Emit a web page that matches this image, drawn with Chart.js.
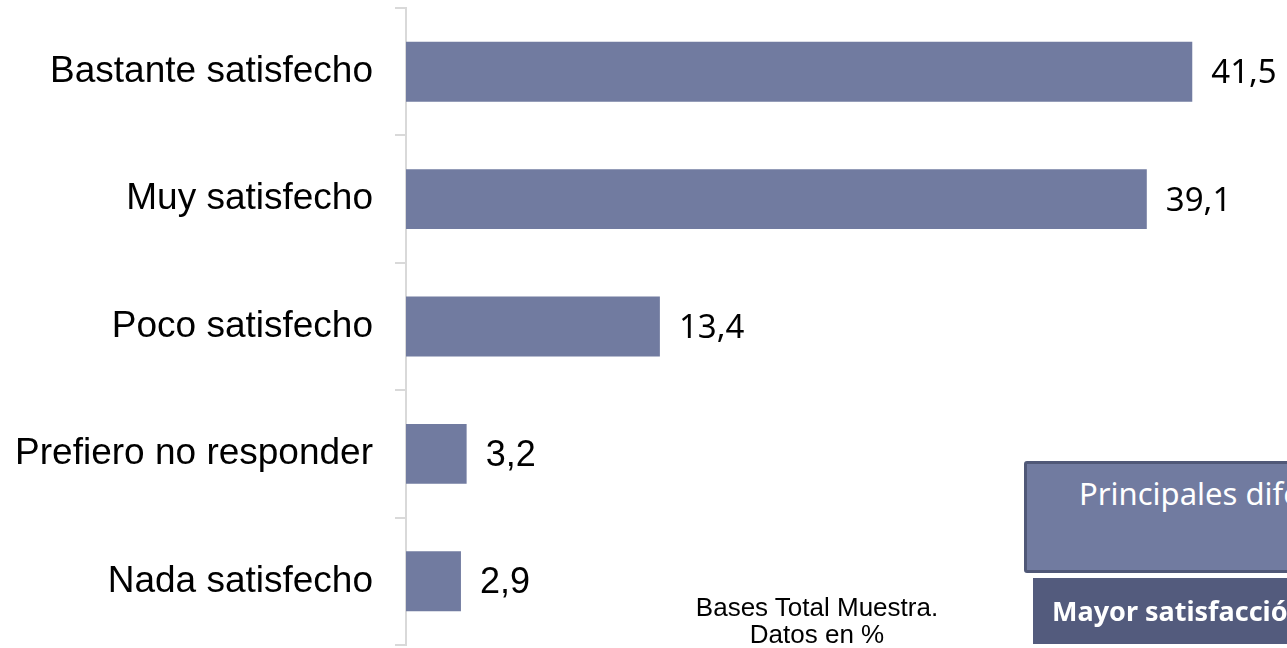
<!DOCTYPE html>
<html>
<head>
<meta charset="utf-8">
<script src="https://cdn.jsdelivr.net/npm/chart.js@4/dist/chart.umd.min.js"></script>
<style>
  html, body { margin: 0; padding: 0; background: #fff; overflow: hidden; }
  #wrap { position: relative; width: 1287px; height: 648px; overflow: hidden; }
  #chart { position: absolute; left: 0; top: 0; }
  .note {
    position: absolute; left: 680px; top: 594px; width: 274px;
    font-family: "Liberation Sans", Arial, sans-serif; font-size: 26px;
    line-height: 27px; text-align: center; color: #000;
  }
  .box1 {
    position: absolute; left: 1024px; top: 461px; width: 400px; height: 106px;
    background: #717ba0; border: 3px solid #505877; border-radius: 3px;
    color: #fff; font-family: "Noto Sans", sans-serif; font-size: 31px;
    white-space: nowrap; box-sizing: content-box;
  }
  .box1 span { position: absolute; left: 52px; top: 8px; }
  .box2 {
    position: absolute; left: 1033px; top: 578px; width: 400px; height: 66px;
    background: #535b7d; color: #fff; font-family: "Noto Sans", sans-serif;
    font-weight: bold; font-size: 27px; white-space: nowrap;
  }
  .box2 span { position: absolute; left: 19px; top: 14px; }
</style>
</head>
<body>
<div id="wrap">
  <canvas id="chart" width="1287" height="648"></canvas>
  <div class="note">Bases Total Muestra.<br>Datos en %</div>
  <div class="box1"><span>Principales diferencias</span></div>
  <div class="box2"><span>Mayor satisfacción</span></div>
</div>
<script>
// Satisfaction results (%)
const categories = ['Bastante satisfecho', 'Muy satisfecho', 'Poco satisfecho', 'Prefiero no responder', 'Nada satisfecho'];
const values = [41.5, 39.1, 13.4, 3.2, 2.9];

const barColor = '#717ba0';
const axisColor = '#d9d9d9';

// Draw value labels to the right of each bar
const valueLabels = {
    id: 'valueLabels',
    afterDatasetsDraw(chart) {
        const ctx = chart.ctx;
        const meta = chart.getDatasetMeta(0);
        ctx.save();
        ctx.fillStyle = '#000';
        ctx.textBaseline = 'middle';
        ctx.textAlign = 'left';
        meta.data.forEach((bar, i) => {
            // the small values use a different typeface in the original
            ctx.font = i < 3 ? '33px "Noto Sans", sans-serif' : '36px "Liberation Sans", Arial, sans-serif';
            const txt = values[i].toFixed(1).replace('.', ',');
            ctx.fillText(txt, bar.x + 19, bar.y + 2);
        });
        ctx.restore();
    }
};

const ctx = document.getElementById('chart').getContext('2d');

new Chart(ctx, {
    type: 'bar',
    data: {
        labels: categories,
        datasets: [{
            data: values,
            backgroundColor: barColor,
            borderWidth: 0,
            barPercentage: 0.47,
            categoryPercentage: 1
        }]
    },
    options: {
        indexAxis: 'y',
        responsive: false,
        animation: false,
        layout: { padding: { top: 8, bottom: 3, left: 0, right: 0 } },
        plugins: {
            legend: { display: false },
            tooltip: { enabled: false }
        },
        scales: {
            x: { display: false, min: 0, max: 46.5 },
            y: {
                grid: {
                    offset: true,
                    drawOnChartArea: false,
                    drawTicks: true,
                    tickLength: 11,
                    color: axisColor,
                    lineWidth: 2
                },
                border: { display: true, color: axisColor, width: 2 },
                ticks: {
                    color: '#000',
                    padding: 22,
                    font: { family: '"Liberation Sans", Arial, sans-serif', size: 37 }
                },
                afterFit(scale) {
                    scale.width = 406;
                    // no extra room above/below for the end labels
                    scale.paddingTop = 0;
                    scale.paddingBottom = 0;
                }
            }
        }
    },
    plugins: [valueLabels]
});
</script>
</body>
</html>
